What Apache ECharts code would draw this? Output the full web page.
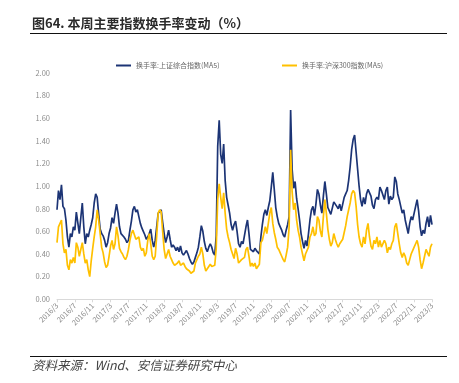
<!DOCTYPE html>
<html>
<head>
<meta charset="utf-8">
<script src="https://cdn.jsdelivr.net/npm/echarts@6/dist/echarts.min.js"></script>
<style>
html,body{margin:0;padding:0;background:#fff;}
#c{width:459px;height:383px;}
</style>
</head>
<body>
<div id="c"></div>
<script>
// Series names
var seriesNames = ['换手率:上证综合指数(MA5)', '换手率:沪深300指数(MA5)'];
// Y axis ticks
var yTicks = [0, 0.2, 0.4, 0.6, 0.8, 1.0, 1.2, 1.4, 1.6, 1.8, 2.0];
// first month of the x axis (dekad resolution: 3 points per month)
var startYear = 2016, startMonth = 3;

// 上证综合指数 换手率 MA5 (%), 2016/3 - 2019/9
var shA = [
0.79,0.96,0.88,1.01,0.82,0.80,0.70,0.55,0.46,0.58,
0.55,0.64,0.61,0.77,0.76,0.58,0.72,0.85,0.64,0.49,
0.58,0.55,0.61,0.66,0.72,0.85,0.93,0.90,0.75,0.62,
0.58,0.56,0.52,0.46,0.50,0.58,0.63,0.72,0.67,0.76,
0.84,0.76,0.64,0.58,0.59,0.55,0.53,0.50,0.52,0.61,
0.69,0.79,0.82,0.77,0.79,0.73,0.67,0.63,0.60,0.57,
0.53,0.55,0.58,0.62,0.52,0.46,0.52,0.64,0.76,0.77,
0.79,0.68,0.58,0.50,0.55,0.61,0.53,0.46,0.48,0.46,
0.43,0.46,0.42,0.47,0.41,0.39,0.39,0.43,0.40,0.36,
0.33,0.31,0.33,0.37,0.41,0.46,0.55,0.65,0.60,0.51,
0.45,0.42,0.46,0.49,0.46,0.41,0.39,0.56,1.35,1.58,
1.28,1.20,1.37,1.05,0.90,0.83,0.76,0.66,0.61,0.66,
0.69,0.60,0.49,0.46,0.51,0.49,0.50
];
// 上证综合指数 换手率 MA5 (%), 2019/9 - 2023/3
var shB = [
0.64,0.70,0.58,0.44,0.45,0.42,0.45,0.43,0.42,0.40,
0.55,0.66,0.75,0.79,0.74,0.81,0.87,0.99,1.12,0.97,
0.81,0.73,0.67,0.64,0.61,0.57,0.55,0.61,0.66,0.73,
1.67,1.15,0.98,1.04,0.89,0.80,0.70,0.58,0.51,0.45,
0.52,0.47,0.58,0.70,0.79,0.82,0.74,0.84,0.97,0.93,
0.83,0.76,0.91,1.04,0.93,0.81,0.78,0.75,0.76,0.86,
0.85,0.82,0.80,0.84,0.78,0.84,0.90,0.93,0.96,1.05,
1.17,1.32,1.41,1.45,1.30,1.15,1.00,0.88,0.82,0.90,
0.84,0.93,0.97,0.96,0.91,0.83,0.80,0.88,0.90,0.88,
0.99,0.96,0.92,0.88,0.96,0.99,0.84,0.91,0.88,0.90,
1.08,1.04,0.93,0.88,0.82,0.76,0.79,0.70,0.64,0.58,
0.67,0.73,0.70,0.76,0.82,0.88,0.78,0.64,0.56,0.61,
0.58,0.67,0.73,0.64,0.74,0.66
];
// 沪深300指数 换手率 MA5 (%), 2016/3 - 2019/9
var hsA = [
0.50,0.64,0.64,0.70,0.49,0.41,0.44,0.30,0.26,0.35,
0.32,0.37,0.32,0.50,0.46,0.38,0.44,0.50,0.40,0.32,
0.35,0.26,0.20,0.34,0.45,0.55,0.64,0.79,0.70,0.58,
0.46,0.41,0.33,0.28,0.30,0.38,0.47,0.52,0.44,0.49,
0.64,0.56,0.45,0.42,0.40,0.37,0.35,0.38,0.44,0.52,
0.58,0.61,0.57,0.53,0.54,0.55,0.46,0.43,0.45,0.38,
0.41,0.52,0.58,0.49,0.38,0.35,0.38,0.56,0.76,0.79,
0.77,0.60,0.44,0.36,0.35,0.44,0.38,0.35,0.32,0.30,
0.29,0.32,0.34,0.30,0.30,0.32,0.29,0.27,0.27,0.25,
0.23,0.22,0.25,0.32,0.35,0.38,0.40,0.46,0.40,0.30,
0.25,0.24,0.29,0.31,0.29,0.29,0.30,0.45,0.88,1.02,
0.90,0.80,0.94,0.76,0.62,0.55,0.50,0.44,0.40,0.36,
0.45,0.40,0.32,0.32,0.35,0.36,0.37
];
// 沪深300指数 换手率 MA5 (%), 2019/9 - 2023/3
var hsB = [
0.44,0.46,0.38,0.29,0.32,0.29,0.32,0.27,0.29,0.31,
0.50,0.52,0.58,0.64,0.58,0.67,0.76,0.81,0.67,0.59,
0.53,0.46,0.44,0.41,0.38,0.35,0.33,0.39,0.46,0.64,
1.32,0.95,0.79,0.85,0.70,0.61,0.55,0.46,0.40,0.34,
0.40,0.40,0.46,0.55,0.58,0.64,0.56,0.58,0.73,0.70,
0.60,0.55,0.73,0.88,0.76,0.62,0.53,0.47,0.50,0.58,
0.53,0.49,0.46,0.49,0.50,0.53,0.59,0.65,0.73,0.79,
0.85,0.93,0.96,0.94,0.82,0.66,0.55,0.49,0.46,0.55,
0.49,0.61,0.67,0.55,0.47,0.44,0.52,0.49,0.55,0.46,
0.52,0.46,0.45,0.52,0.49,0.41,0.46,0.44,0.49,0.52,
0.64,0.67,0.58,0.49,0.41,0.37,0.41,0.38,0.32,0.30,
0.35,0.40,0.43,0.46,0.49,0.52,0.46,0.35,0.27,0.32,
0.38,0.44,0.41,0.38,0.46,0.49
];

var shData = shA.concat(shB);
var hsData = hsA.concat(hsB);

// categories: three points per month (dekads); label is "YYYY/M" at the first dekad
var categories = [];
(function(){
  var y = startYear, m = startMonth;
  while (categories.length < shData.length) {
    categories.push(y + '/' + m);
    categories.push(y + '/' + m + '/11');
    categories.push(y + '/' + m + '/21');
    m++; if (m > 12) { m = 1; y++; }
  }
  categories.length = shData.length;
})();

var chart = echarts.init(document.getElementById('c'), null, {renderer: 'canvas'});
var CJK = '"Noto Sans CJK SC", "Noto Sans", sans-serif';
chart.setOption({
  animation: false,
  backgroundColor: '#fff',
  textStyle: {fontFamily: CJK},
  title: {
    text: '图64. 本周主要指数换手率变动（%）',
    left: 27, top: 12,
    textStyle: {fontSize: 13, fontWeight: 'bold', color: '#2b2b2b', fontFamily: CJK}
  },
  graphic: [
    {type: 'line', shape: {x1: 30, y1: 33.5, x2: 447, y2: 33.5}, style: {stroke: '#111', lineWidth: 1.2}},
    {type: 'line', shape: {x1: 30, y1: 356.5, x2: 447, y2: 356.5}, style: {stroke: '#111', lineWidth: 1.2}},
    {type: 'text', left: 32, top: 359, style: {text: '资料来源：Wind、安信证券研究中心', font: 'italic 12.5px "Noto Sans CJK SC", sans-serif', fill: '#444'}}
  ],
  legend: [
    {data: [seriesNames[0]], left: 111, top: 57, itemWidth: 15, itemHeight: 2, icon: 'rect', itemGap: 4,
     textStyle: {fontSize: 7, color: '#666', fontFamily: CJK}},
    {data: [seriesNames[1]], left: 277, top: 57, itemWidth: 15, itemHeight: 2, icon: 'rect', itemGap: 4,
     textStyle: {fontSize: 7, color: '#666', fontFamily: CJK}}
  ],
  grid: {left: 57, right: 27, top: 72.7, bottom: 83.7, containLabel: false},
  xAxis: {
    type: 'category',
    data: categories,
    boundaryGap: false,
    axisLine: {lineStyle: {color: '#d9d9d9', width: 1}},
    axisTick: {show: true, interval: 11, length: 3, lineStyle: {color: '#d9d9d9'}},
    axisLabel: {interval: 11, rotate: 45, fontSize: 7.5, color: '#8c8c8c', margin: 5}
  },
  yAxis: {
    type: 'value',
    min: yTicks[0], max: yTicks[yTicks.length - 1], interval: 0.2,
    axisLine: {show: false},
    axisTick: {show: false},
    splitLine: {show: false},
    axisLabel: {fontSize: 7.5, color: '#8c8c8c', margin: 7, formatter: function(v){return v.toFixed(2);}}
  },
  series: [
    {name: seriesNames[0], type: 'line', data: shData, showSymbol: false, symbol: 'none',
     lineStyle: {color: '#1c3475', width: 1.7}, itemStyle: {color: '#1c3475'}},
    {name: seriesNames[1], type: 'line', data: hsData, showSymbol: false, symbol: 'none',
     lineStyle: {color: '#ffc000', width: 1.7}, itemStyle: {color: '#ffc000'}}
  ]
});
</script>
</body>
</html>
